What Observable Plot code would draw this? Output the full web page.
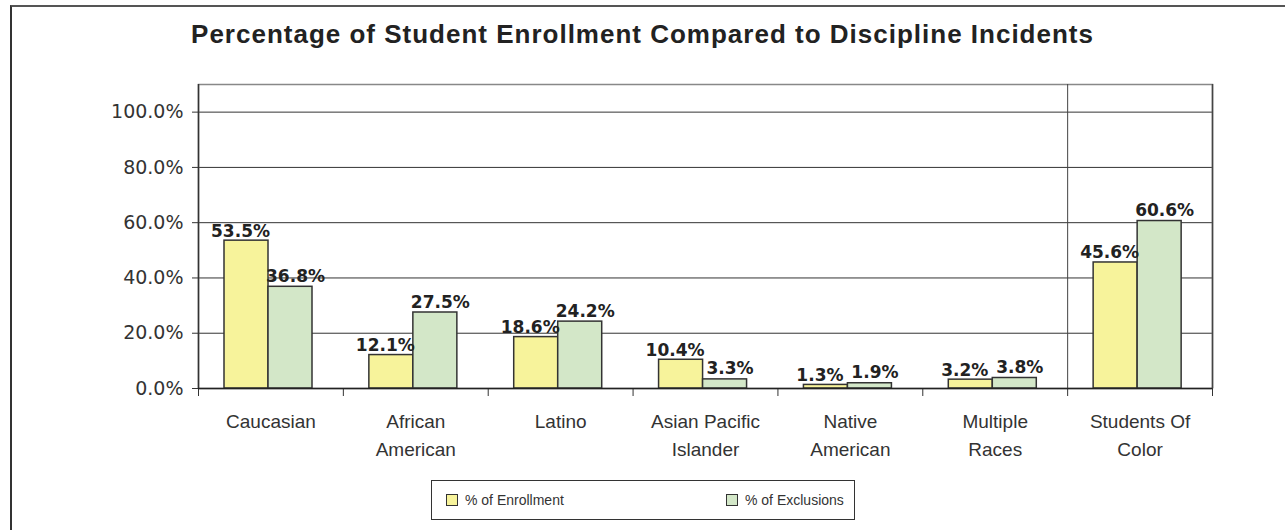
<!DOCTYPE html>
<html>
<head>
<meta charset="utf-8">
<script src="https://cdn.jsdelivr.net/npm/d3@7"></script>
<script src="https://cdn.jsdelivr.net/npm/@observablehq/plot@0.6"></script>
<style>
  html, body { margin: 0; padding: 0; background: #fff; }
  #wrap { position: relative; width: 1285px; height: 530px; overflow: hidden; }
  #title { position: absolute; left: 0; top: 21px; width: 1285px; text-align: center;
           font: bold 26px "Liberation Sans", Arial, sans-serif; letter-spacing: 1px; color: #222; line-height: 1; }
  #chart { position: absolute; left: 0; top: 0; }
  #frame { position: absolute; left: 10px; top: 5px; width: 1300px; height: 560px;
           border-left: 2px solid #333; border-top: 2px solid #555; pointer-events: none; }
  #legend { position: absolute; left: 431px; top: 480px; width: 422px; height: 38px;
            border: 1px solid #333; font: 14px "Liberation Sans", Arial, sans-serif; color: #333; }
  .item { position: absolute; top: 0; height: 38px; display: flex; align-items: center; white-space: nowrap; }
  .sw { width: 10px; height: 10px; border: 1px solid #333; margin-right: 7px; }
</style>
</head>
<body>
<div id="wrap">
  <div id="title">Percentage of Student Enrollment Compared to Discipline Incidents</div>
  <div id="chart"></div>
  <div id="legend"></div>
  <div id="frame"></div>
</div>
<script>
const categories = ["Caucasian", "African American", "Latino", "Asian Pacific Islander", "Native American", "Multiple Races", "Students Of Color"];
const axisLabels = ["Caucasian", "African\nAmerican", "Latino", "Asian Pacific\nIslander", "Native\nAmerican", "Multiple\nRaces", "Students Of\nColor"];
const enrollment = [53.5, 12.1, 18.6, 10.4, 1.3, 3.2, 45.6];
const exclusions = [36.8, 27.5, 24.2, 3.3, 1.9, 3.8, 60.6];
const yTicks = [0, 20, 40, 60, 80, 100];
const seriesNames = ["% of Enrollment", "% of Exclusions"];
const seriesColors = ["#f7f39b", "#d3e7c8"];

const rows = categories.map((c, i) => ({category: c, enrollment: enrollment[i], exclusions: exclusions[i]}));

const W = 1285, H = 530, mL = 198, mR = 73, mT = 84, mB = 142;
const bw = (W - mL - mR) / categories.length;
const last = categories[categories.length - 1];
const pct = d => d.toFixed(1) + "%";
const labelFont = "DejaVu Sans, Verdana, sans-serif";

const chart = Plot.plot({
  width: W, height: H,
  marginLeft: mL, marginRight: mR, marginTop: mT, marginBottom: mB,
  style: {background: "none", color: "#333"},
  x: {domain: categories, padding: 0, round: false},
  y: {domain: [0, 110]},
  marks: [
    Plot.ruleY(yTicks.filter(d => d > 0), {stroke: "#333", strokeWidth: 1}),
    Plot.frame({stroke: "#888", strokeWidth: 1.5}),
    Plot.ruleX([categories[0]], {x: d => d, dx: -bw / 2, stroke: "#333", strokeWidth: 1.5}),
    Plot.ruleX([last], {x: d => d, dx: bw / 2, stroke: "#444", strokeWidth: 1.5}),
    Plot.ruleX([last], {x: d => d, dx: -bw / 2, stroke: "#444", strokeWidth: 1}),
    Plot.ruleX(categories, {x: d => d, dx: -bw / 2, y1: 0, y2: 0, insetBottom: -8, stroke: "#333"}),
    Plot.ruleX([last], {x: d => d, dx: bw / 2, y1: 0, y2: 0, insetBottom: -8, stroke: "#333"}),
    Plot.barY(rows, {x: "category", y: "enrollment", fill: seriesColors[0], stroke: "#333", strokeWidth: 1.5, insetLeft: 26, insetRight: bw - 70}),
    Plot.barY(rows, {x: "category", y: "exclusions", fill: seriesColors[1], stroke: "#333", strokeWidth: 1.5, insetLeft: 70, insetRight: bw - 114}),
    Plot.ruleY([0], {stroke: "#222", strokeWidth: 1.5}),
    Plot.text(rows, {x: "category", y: "enrollment", text: d => pct(d.enrollment), dx: 48 - bw / 2 - 6, dy: -4,
      lineAnchor: "bottom", fontWeight: "bold", fontSize: 17, fontFamily: labelFont, fill: "#222"}),
    Plot.text(rows, {x: "category", y: "exclusions", text: d => pct(d.exclusions), dx: 92 - bw / 2 + 5, dy: -5,
      lineAnchor: "bottom", fontWeight: "bold", fontSize: 17, fontFamily: labelFont, fill: "#222"}),
    Plot.axisY({ticks: yTicks, tickSize: 6, tickPadding: 9, tickFormat: pct, label: null,
      fontSize: 19, fontFamily: labelFont, fill: "#333", stroke: "#333"}),
    Plot.axisX({tickSize: 0, tickPadding: 20, label: null,
      tickFormat: d => axisLabels[categories.indexOf(d)], lineHeight: 1.45,
      fontSize: 19, fontFamily: "Liberation Sans, Arial, sans-serif", fill: "#333"})
  ]
});
document.getElementById("chart").append(chart);

const legend = document.getElementById("legend");
const legendX = [14, 294];
seriesNames.forEach((name, i) => {
  const it = document.createElement("div");
  it.className = "item";
  it.style.left = legendX[i] + "px";
  const sw = document.createElement("div");
  sw.className = "sw";
  sw.style.background = seriesColors[i];
  const tx = document.createElement("span");
  tx.textContent = name;
  it.append(sw, tx);
  legend.append(it);
});
</script>
</body>
</html>
